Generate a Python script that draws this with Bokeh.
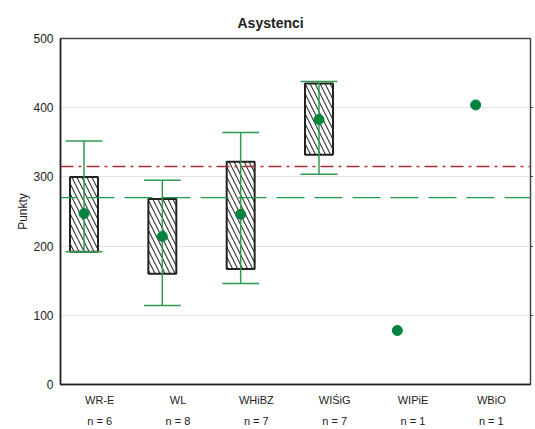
from bokeh.plotting import figure
from bokeh.models import ColumnDataSource, Range1d, LinearAxis, FixedTicker, Span
from bokeh.transform import dodge
from bokeh.embed import file_html
from bokeh.resources import INLINE

# ---- data ----
categories = ["WR-E", "WL", "WHiBZ", "WIŚiG", "WIPiE", "WBiO"]
counts = [6, 8, 7, 7, 1, 1]
means = [247, 214, 246, 383, 78, 404]

box_categories = ["WR-E", "WL", "WHiBZ", "WIŚiG"]
box_low = [192, 160, 167, 332]
box_high = [300, 268, 322, 435]
whisker_low = [192, 114, 146, 304]
whisker_high = [352, 295, 364, 438]

ref_red = 315
ref_green = 270
y_ticks = [0, 100, 200, 300, 400, 500]

FONT = "Liberation Sans"
GREEN_LINE = "#2e9c50"
GREEN_DOT = "#00843d"

cat_index = {c: i for i, c in enumerate(categories)}
ncat = len(categories)

p = figure(width=533, height=429, output_backend="svg", toolbar_location=None,
           x_range=Range1d(-0.5, ncat - 0.5),
           y_range=Range1d(0, 500),
           min_border_left=60, min_border_right=0, min_border_top=38, min_border_bottom=44,
           background_fill_color="white", border_fill_color="white")

p.outline_line_color = "#444444"
p.outline_line_width = 1.5

# title
p.title.text = "Asystenci"
p.title.text_font = FONT
p.title.text_font_size = "14px"
p.title.text_font_style = "bold"
p.title.text_color = "#222222"
p.title.align = "left"
p.title.offset = 177
p.title.standoff = 15

# grid
p.xgrid.visible = False
p.ygrid.ticker = FixedTicker(ticks=y_ticks)
p.ygrid.grid_line_color = "#c4c4c4"
p.ygrid.grid_line_dash = "1 1"
p.ygrid.grid_line_width = 1

# left axis
ya = p.yaxis[0]
ya.ticker = FixedTicker(ticks=y_ticks)
ya.axis_label = "Punkty"
ya.axis_label_text_font = FONT
ya.axis_label_text_font_size = "12px"
ya.axis_label_text_font_style = "normal"
ya.axis_label_text_color = "#222222"
ya.axis_label_standoff = 0
ya.major_label_text_font = FONT
ya.major_label_text_font_size = "12px"
ya.major_label_text_color = "#222222"
ya.major_label_standoff = 7
ya.major_tick_out = 0
ya.major_tick_in = 0
ya.minor_tick_out = 0
ya.minor_tick_in = 0
ya.axis_line_color = "#222222"
ya.axis_line_width = 1.5

# right axis: small ticks only
right_ticks = [100, 200, 300, 400]
ra = LinearAxis(ticker=FixedTicker(ticks=right_ticks),
                major_label_overrides={t: "" for t in right_ticks})
ra.major_label_standoff = 0
ra.major_tick_out = 3
ra.major_tick_in = 0
ra.minor_tick_out = 0
ra.minor_tick_in = 0
ra.major_tick_line_color = "#444444"
ra.axis_line_color = None
p.add_layout(ra, "right")

# bottom axis: category labels
xa = p.xaxis[0]
xa.ticker = FixedTicker(ticks=list(range(ncat)))
xa.major_label_overrides = {i: c for i, c in enumerate(categories)}
xa.major_label_text_font = FONT
xa.major_label_text_font_size = "11px"
xa.major_label_text_color = "#222222"
xa.major_label_standoff = 9
xa.major_tick_out = 0
xa.major_tick_in = 0
xa.minor_tick_out = 0
xa.minor_tick_in = 0
xa.axis_line_color = "#222222"
xa.axis_line_width = 1.5

# second bottom axis: n labels
na = LinearAxis(ticker=FixedTicker(ticks=list(range(ncat))),
                major_label_overrides={i: f"n = {n}" for i, n in enumerate(counts)})
na.major_label_text_font = FONT
na.major_label_text_font_size = "11px"
na.major_label_text_color = "#222222"
na.major_label_standoff = 6
na.major_tick_out = 0
na.major_tick_in = 0
na.minor_tick_out = 0
na.minor_tick_in = 0
na.axis_line_color = None
p.add_layout(na, "below")

# reference lines
p.add_layout(Span(location=ref_red, dimension="width", line_color="#a83232",
                  line_width=1.3, line_dash="13 5 3 5"))
p.add_layout(Span(location=ref_green, dimension="width", line_color="#1f9a48",
                  line_width=1.3, line_dash="28 10", line_dash_offset=12))

SHIFT = -0.2
CAP = 0.235
box_src = ColumnDataSource(dict(pos=[cat_index[c] for c in box_categories],
                                lo=box_low, hi=box_high,
                                wlo=whisker_low, whi=whisker_high))

p.vbar(x=dodge("pos", SHIFT), bottom="lo", top="hi", width=0.357,
       source=box_src, fill_color="white", line_color="#222222", line_width=2,
       hatch_pattern="\\", hatch_color="#333333", hatch_scale=10, hatch_weight=1.1)

p.segment(x0=dodge("pos", SHIFT), x1=dodge("pos", SHIFT),
          y0="wlo", y1="whi", source=box_src, line_color=GREEN_LINE, line_width=1.5)
p.segment(x0=dodge("pos", SHIFT - CAP), x1=dodge("pos", SHIFT + CAP),
          y0="whi", y1="whi", source=box_src, line_color=GREEN_LINE, line_width=1.5)
p.segment(x0=dodge("pos", SHIFT - CAP), x1=dodge("pos", SHIFT + CAP),
          y0="wlo", y1="wlo", source=box_src, line_color=GREEN_LINE, line_width=1.5)

mean_src = ColumnDataSource(dict(pos=[cat_index[c] for c in categories], m=means))
p.scatter(x=dodge("pos", SHIFT), y="m", source=mean_src, size=10,
          fill_color=GREEN_DOT, line_color=GREEN_DOT)

open("out.html", "w").write(file_html(p, INLINE))
